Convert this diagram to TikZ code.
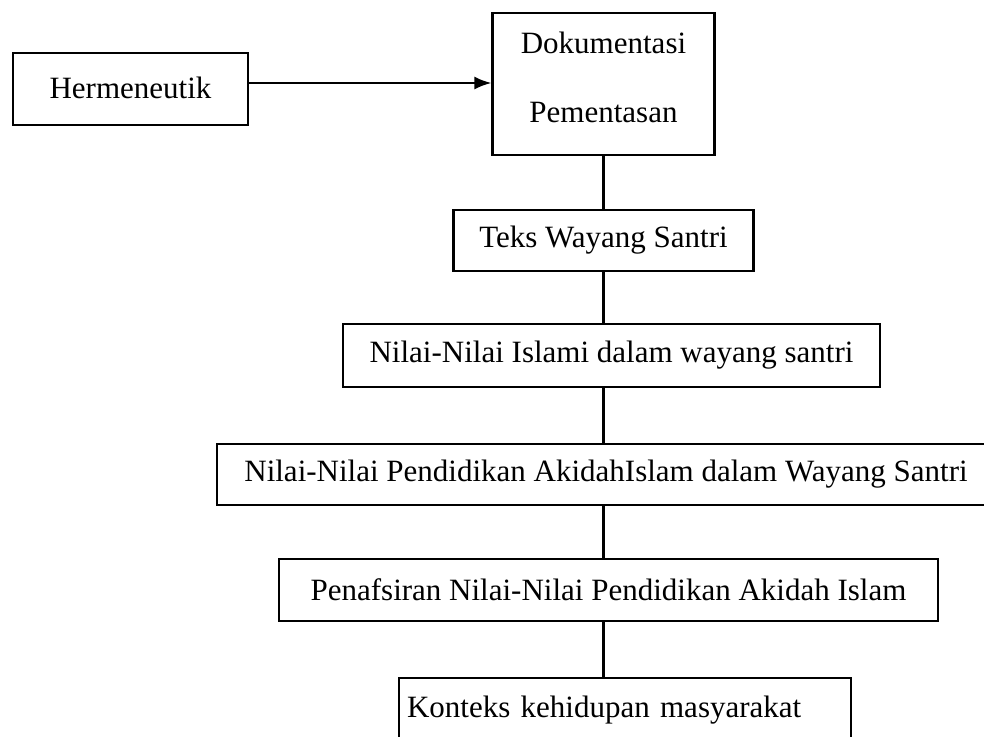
\documentclass[tikz,border=0pt]{standalone}
\usepackage{fontspec}
\setmainfont{Liberation Serif}
\usetikzlibrary{arrows.meta}
\begin{document}
\begin{tikzpicture}[x=1pt,y=-1pt,
  box/.style={draw=black,line width=2.2pt,rectangle,inner sep=0pt,
    font=\fontsize{31}{37}\selectfont,align=center},
  conn/.style={draw=black,line width=2.2pt},
  arr/.style={draw=black,line width=2.2pt,-{Latex[length=17pt,width=13pt]}}]
\useasboundingbox (0,0) rectangle (984,736);
\node[box,minimum width=235pt,minimum height=72pt] (herm) at (130.5,89) {\raisebox{3pt}{Hermeneutik}};
\node[box,minimum width=222pt,minimum height=142pt] (dok) at (603.5,84)
  {Dokumentasi\\[32pt]Pementasan\rule[-13pt]{0pt}{13pt}};
\node[box,minimum width=300pt,minimum height=61pt] (teks) at (603.5,240.5) {Teks Wayang Santri};
\node[box,minimum width=537pt,minimum height=63pt] (islami) at (611.5,355.5) {Nilai-Nilai Islami dalam wayang santri};
\node[box,minimum width=778pt,minimum height=61pt] (pend) at (606,474.5) {Nilai-Nilai Pendidikan AkidahIslam dalam Wayang Santri};
\node[box,minimum width=659pt,minimum height=62pt] (penaf) at (608.5,590) {Penafsiran Nilai-Nilai Pendidikan Akidah Islam};
\node[box,minimum height=64pt,text width=436pt,inner xsep=8pt,align=left] (konteks) at (625,710) {Konteks kehidupan masyarakat};
\draw[arr] ([yshift=6pt]herm.east) -- ([yshift=6pt]herm.east -| dok.west);
\draw[conn] (dok.south) -- (teks.north);
\draw[conn] (teks.south) -- (teks.south |- islami.north);
\draw[conn] (teks.south |- islami.south) -- (teks.south |- pend.north);
\draw[conn] (teks.south |- pend.south) -- (teks.south |- penaf.north);
\draw[conn] (teks.south |- penaf.south) -- (teks.south |- konteks.north);
\end{tikzpicture}
\end{document}
